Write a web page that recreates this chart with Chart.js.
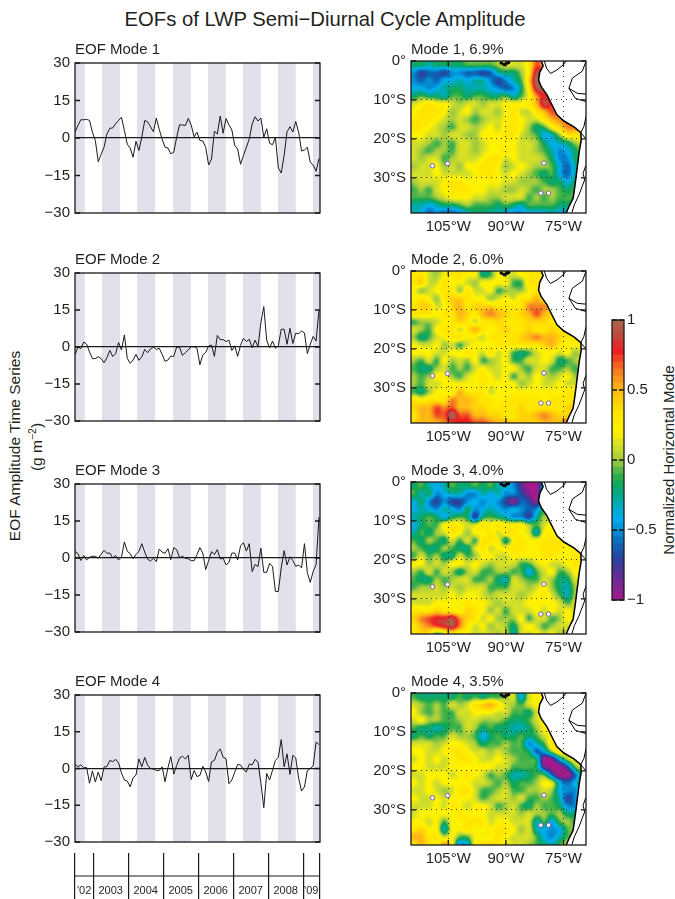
<!DOCTYPE html>
<html>
<head>
<meta charset="utf-8">
<title>EOFs of LWP Semi-Diurnal Cycle Amplitude</title>
<script src="https://cdn.jsdelivr.net/npm/chart.js@4/dist/chart.umd.min.js"></script>
<style>
  html, body { margin: 0; padding: 0; background: #fff; }
  body { position: relative; width: 675px; height: 899px; overflow: hidden; font-family: "Liberation Sans", sans-serif; color: #231f20; }
  canvas { position: absolute; }
  .label { position: absolute; white-space: nowrap; transform: translate(-50%, -50%) rotate(-90deg); font-size: 15.5px; }
  .label sup { font-size: 10.5px; line-height: 0; }
  #mainTitle { position: absolute; left: 325px; top: 19px; transform: translate(-50%, -50%); font-size: 20.3px; white-space: nowrap; }
</style>
</head>
<body>
<div id="mainTitle">EOFs of LWP Semi−Diurnal Cycle Amplitude</div>
<div class="label" style="left:15px; top:446px">EOF Amplitude Time Series</div>
<div class="label" style="left:37px; top:447px">(g m<sup>−2</sup>)</div>
<div class="label" style="left:668px; top:460px; font-size:15px">Normalized Horizontal Mode</div>

<script>
// ---------------- time series, one value a month from mid 2002
const mode1Series = [2.3,5,7.3,7.3,7.5,7,2.3,-1,-9.5,-6.5,-3.7,1.6,3.9,4,5.8,7,8.3,3,-2.5,-4,-7.7,-1.3,-5,0.3,7,6.5,4.5,2.5,8,3.5,-0.5,-3.7,-4,-6.3,-5.7,0.3,5.3,5.2,5,7.8,5.2,0.5,2.3,-1,-1.2,-3.7,-10.8,-8.4,2.7,1.6,8.8,1.9,7.8,5.3,3.2,-3,-4.4,-10.5,-7,-3.7,-0.4,5.6,8.5,6.8,8,0.3,3.7,-2.1,-2.7,0.3,-12,-14,-7,2.5,4.5,2.4,6.6,2.3,-5.2,-4.8,-3.7,-9.7,-10.8,-13.3,-8.2];
const mode2Series = [-3.2,0,-0.7,2,1.2,-2,-4.7,-4.7,-3.9,-4.7,-6.4,-4.3,-1.4,-3.9,-2.7,1.8,-1.2,4.9,-4.6,-6.6,-5.3,-3,-5.4,-4,-1,-2.3,-0.8,0,-1,-0.5,-3,-5.8,-5.3,-3.7,-3.8,0,-0.1,-3.4,-2.3,-1.2,0.1,0.1,-0.5,-7.2,-3.2,-2.2,0.4,0.8,-3.8,4.7,3,3,2.2,2.8,-1.4,0.5,-3.8,0.7,3.5,2.2,3.1,-0.3,2.8,0.1,9.9,16.4,2.7,-0.4,2.4,-0.5,0.5,7.2,7.2,1.1,7.6,1.4,5.6,5.4,6.5,5.7,-2.7,1.1,4.3,2.4,14.9];
const mode3Series = [2.7,1.8,-1,1,-0.8,0.3,0.7,0.7,-0.1,1.5,3.1,1.9,2,0,1,-0.8,0.4,6.5,2.7,1.8,-0.3,1.4,2.7,5.8,2.4,-0.5,-1.2,-0.1,-1.5,3.6,2.4,1.9,3.8,-0.7,4.2,3.4,0.1,0.7,-0.1,-0.3,-1.1,-1.1,1.4,4.2,2,-4.7,-1.1,2.6,1.4,3.4,-0.4,-0.1,-2.8,-1.8,2,2,-0.8,4.9,6.2,2.8,5.8,-5.5,-2.6,-3.5,4,-5.8,-5.8,-2.2,-3.4,-13.6,-13.6,-4,3,-2.8,0.5,-1,-3.4,-2.8,-4,5.8,-6,-9.9,-5.4,-2.7,16.6];
const mode4Series = [1.9,0.7,1.5,0.3,0.4,-6,-1,-5.5,-1.5,-5,0.6,0.8,3.3,2.8,3.7,2.3,-1.8,-4.7,-5.1,-7.5,-3.8,-2.7,3.9,0.7,4.5,1.4,0,-0.3,-0.8,-0.8,0.7,-5.4,0.3,4.9,-2.3,1.2,4.3,5,3.9,5.4,-4.5,-0.8,-3.3,-2.8,0.9,-1.4,-5.3,2.7,3.3,6.6,8,4.6,4,-6.2,-4.7,-1.5,1.6,1.5,-0.4,-1.4,1.8,1.5,3.7,2.6,-6,-16,-2,-4.7,-0.7,3.3,4.6,11.8,0.7,6,-2.4,5.4,4.3,-4,-9.2,-7.5,-0.8,0,1.1,10.8,9.8];

const seriesTicks = [30, 15, 0, -15, -30];
const bandStart = [2002.48, 2003.25, 2004.25, 2005.28, 2006.28, 2007.28, 2008.28, 2009.28];
const bandEnd   = [2002.76, 2003.77, 2004.77, 2005.79, 2006.79, 2007.79, 2008.79, 2009.48];
const yearEdges  = [2002.48, 2003, 2004, 2005, 2006, 2007, 2008, 2009, 2009.46];
const yearLabels = ["'02", "2003", "2004", "2005", "2006", "2007", "2008", "'09"];

// ---------------- horizontal modes, tenths of the normalized mode on a 2 degree grid
// rows run from 1S to 39S, columns from 114W to 70W
const mode1Grid = [
  [-2,-2,-3,-2,-2,-2,-2,-1,-1,-1,-1,0,1,1,1,3,7,5,2,2,2,2,2],
  [-5,-7,-6,-6,-7,-5,-5,-6,-6,-7,-6,-3,-2,-2,0,3,9,7,3,3,3,3,3],
  [-5,-6,-5,-6,-4,-4,-3,-4,-3,-3,-5,-7,-5,-3,-1,4,10,8,4,4,4,4,4],
  [-4,-4,-5,-4,-3,-2,-2,-3,-3,-3,-4,-5,-6,-5,-2,3,9,9,5,4,4,4,4],
  [-2,-1,-2,-2,-3,-1,-1,-2,-1,-1,-2,-2,-1,-3,-1,2,6,8,7,5,4,4,4],
  [1,2,3,2,2,1,0,1,1,0,1,1,2,2,2,3,5,9,7,5,5,5,5],
  [2,3,3,3,2,0,1,2,0,1,1,0,2,3,1,1,3,5,7,6,5,5,5],
  [3,3,3,2,1,0,1,0,-1,0,1,1,2,3,2,1,1,3,5,6,6,5,5],
  [3,3,2,1,0,-1,1,1,0,1,2,1,3,3,2,0,-2,-1,2,4,6,6,5],
  [2,2,1,1,0,1,1,0,0,2,2,2,3,3,1,0,-1,-4,-3,0,3,3,3],
  [1,1,0,-1,0,-1,1,1,0,1,2,2,2,2,1,1,0,-2,-4,-3,-2,0,1],
  [1,0,-1,0,0,-1,1,1,0,1,2,2,3,2,1,1,0,-1,-3,-5,-4,-2,0],
  [1,0,1,1,-1,0,1,1,1,2,3,3,1,2,1,1,1,0,-2,-5,-5,-2,-1],
  [0,1,1,2,0,1,0,2,2,3,3,2,0,1,2,1,0,0,-1,-4,-6,-3,-1],
  [1,1,1,2,1,1,1,1,2,3,3,2,1,2,1,0,-1,-2,-1,-4,-6,-3,-1],
  [0,1,1,1,2,3,3,2,2,2,2,2,1,1,0,0,0,-1,-2,-2,-4,-2,-1],
  [-1,0,-1,1,2,3,3,3,2,2,1,1,0,0,1,0,-1,0,0,-1,-2,-1,-1],
  [-1,-1,-1,0,1,2,2,2,1,1,0,0,1,1,1,-1,0,-1,0,-1,-1,-1,-1],
  [-3,-3,-4,-3,-2,-2,-1,0,-1,-1,-1,-2,-1,-2,-3,-1,-1,-1,-1,-2,-2,-2,-2],
  [-3,-4,-6,-5,-6,-6,-5,-3,-2,-2,-3,-3,-4,-5,-5,-4,-4,-4,-3,-4,-4,-4,-4]
];
const mode2Grid = [
  [3,3,1,0,2,3,3,2,2,-2,-1,2,1,1,2,3,3,3,3,3,3,3,3],
  [3,4,1,1,3,2,2,1,0,2,2,2,2,-1,-1,3,3,3,3,3,3,3,3],
  [2,0,1,2,3,3,0,3,1,1,2,-1,0,0,0,2,3,4,3,3,3,3,3],
  [2,3,2,0,3,4,4,3,2,2,0,1,2,1,3,3,5,3,3,3,3,3,3],
  [3,4,4,1,2,4,5,3,4,4,4,3,3,3,3,6,6,6,4,3,3,3,3],
  [3,3,3,2,3,3,5,4,3,5,6,5,4,3,4,5,7,5,4,3,3,3,3],
  [-1,0,0,1,2,3,4,3,1,3,3,4,3,3,3,4,4,4,3,3,3,3,3],
  [1,0,-1,2,3,3,1,3,5,3,2,3,4,3,3,4,3,3,4,3,3,3,3],
  [0,-2,-1,1,2,3,3,2,2,1,3,3,3,3,4,5,6,5,5,4,3,3,3],
  [2,1,1,2,0,1,-1,1,2,2,2,3,3,3,3,3,3,4,5,3,2,2,2],
  [2,2,2,1,1,2,2,3,2,1,3,1,2,-1,-2,-1,1,2,2,1,2,0,1],
  [0,-1,1,-1,2,0,1,0,2,-1,0,1,2,-1,-1,1,1,2,1,-2,-1,0,1],
  [-1,-2,-2,0,1,-1,0,-1,1,2,1,1,2,2,0,-1,1,1,-1,-1,0,-1,0],
  [0,-1,0,2,2,0,-1,1,2,3,2,1,2,-1,1,0,2,1,0,1,2,0,0],
  [0,-1,1,1,2,2,2,2,2,3,2,2,2,2,0,1,2,1,1,2,1,1,1],
  [-1,-2,0,2,2,2,5,3,3,3,1,2,2,2,2,2,2,2,2,2,3,3,3],
  [3,2,3,3,3,6,5,5,4,3,3,2,3,3,3,3,3,2,3,3,3,3,3],
  [4,5,5,7,6,7,5,5,4,4,3,3,3,3,4,3,3,3,3,3,4,4,4],
  [3,5,5,7,7,10,7,7,5,5,4,4,3,3,4,4,5,6,5,4,4,4,4],
  [4,5,5,5,6,7,8,8,7,7,6,5,5,4,4,4,4,5,5,5,7,7,7]
];
const mode3Grid = [
  [-2,-1,-3,-4,-3,-1,-2,-2,-1,-2,-1,-3,-4,-5,-8,-10,-10,-3,2,2,2,2,2],
  [-1,-3,-2,-5,-4,-3,-3,-5,-5,-3,-4,-3,-5,-5,-7,-9,-10,-1,2,2,2,2,2],
  [-4,-2,-5,-7,-5,-7,-7,-5,-4,-5,-4,-5,-7,-9,-6,-7,-9,-1,2,2,2,2,2],
  [-4,-3,-4,-5,-3,-4,-5,-2,-5,-4,-3,-4,-5,-4,-5,-6,-5,-1,2,2,2,2,2],
  [-3,-2,-1,-2,-4,-2,-1,-2,-7,-2,-1,-2,-3,-5,-5,-7,-3,0,-1,2,2,2,2],
  [-4,-2,-1,-1,2,3,2,1,1,3,2,3,2,2,2,0,-1,1,2,-2,1,2,2],
  [-3,-1,-2,0,1,3,2,0,2,2,3,1,3,3,2,1,-3,2,2,1,1,1,1],
  [-1,-2,0,-1,-2,1,-1,1,-1,3,3,2,-2,2,3,2,2,3,3,3,2,2,2],
  [0,-1,-2,-2,0,-1,-2,-2,1,3,1,2,2,3,3,2,2,3,3,3,2,2,2],
  [-1,1,-1,0,-2,-2,1,-1,0,2,2,1,1,2,2,2,2,3,3,2,2,3,3],
  [2,2,0,1,0,2,2,1,2,1,0,1,1,1,-1,-1,1,2,1,1,2,3,3],
  [0,-1,1,-1,1,0,-2,0,1,-1,-1,0,0,-1,-1,-4,-1,1,2,-1,0,2,2],
  [-1,-2,-2,0,-1,0,1,1,-1,-1,0,-2,-3,1,0,-1,-1,1,0,-2,-2,1,1],
  [-1,0,0,1,0,1,0,1,1,1,-1,-1,-1,1,1,0,1,2,0,-2,-3,0,1],
  [1,1,1,1,1,2,1,2,2,1,0,1,1,1,0,1,2,3,1,-1,-3,0,1],
  [1,1,1,2,2,2,2,3,2,2,1,0,1,1,1,2,2,2,2,1,-1,1,2],
  [3,3,3,4,3,3,2,4,3,2,0,1,-1,1,1,1,2,1,2,1,2,1,2],
  [4,6,7,8,8,9,6,4,3,1,2,0,0,0,2,-1,1,1,-1,0,2,2,2],
  [3,5,6,7,8,9,6,3,1,2,0,1,0,-2,1,2,1,-1,0,1,1,2,2],
  [3,4,3,-1,1,3,2,2,1,1,1,0,1,-3,1,1,2,1,2,0,1,2,2]
];
const mode4Grid = [
  [-1,-2,-2,-2,-2,-2,-1,-2,-1,-2,-1,-1,0,1,-4,1,2,2,2,2,2,2,2],
  [1,0,-1,0,-1,1,0,1,3,4,5,3,1,0,-1,1,2,2,2,2,2,2,2],
  [2,0,-1,0,-1,-1,1,1,2,2,2,1,1,-1,-1,-2,1,2,2,2,2,2,2],
  [1,2,0,0,-1,-1,0,1,1,0,0,0,-1,-2,-2,-1,1,2,2,2,2,2,2],
  [-1,-2,-2,-3,-2,-1,-1,1,0,-2,-1,-2,-2,-3,-3,-2,0,2,2,2,2,2,2],
  [-2,-1,-2,-1,-1,1,0,0,-1,-4,-2,-1,-2,-2,-1,-2,-1,1,2,2,2,2,2],
  [1,1,1,0,1,2,2,1,0,-2,-1,-1,0,-1,-1,-5,-3,-1,3,2,1,1,1],
  [2,2,1,1,2,3,3,2,1,1,0,1,0,-1,-1,-2,-6,-4,0,3,2,2,2],
  [1,2,1,2,1,2,3,3,2,1,1,2,1,0,-1,-1,-2,-10,-9,-4,0,2,2],
  [2,2,1,1,1,2,2,2,2,2,2,1,1,-1,-1,-1,-2,-8,-10,-10,-7,-1,1],
  [1,1,2,2,2,1,2,3,2,1,-1,0,-1,-3,-3,-2,-1,-1,-6,-10,-10,-6,-1],
  [2,1,2,1,2,2,2,2,1,1,0,-1,0,-2,-1,-1,0,2,1,-4,-6,-4,-1],
  [1,1,2,1,0,1,3,3,1,-1,-1,0,1,-1,-1,0,0,1,0,-4,-5,-5,-2],
  [2,1,1,2,1,2,2,2,1,-1,0,1,1,0,1,-1,-1,0,-1,-3,-7,-5,-2],
  [1,1,1,2,1,3,2,1,2,2,1,-1,0,1,-1,-2,0,-1,-1,-2,-5,-5,-1],
  [1,2,2,2,2,2,3,2,2,2,1,1,1,1,0,1,0,0,-1,0,-2,-2,0],
  [2,2,1,2,-1,2,2,3,3,3,1,2,2,1,1,1,-3,-1,-4,-1,0,-1,1],
  [3,4,2,2,-3,2,2,3,2,2,2,3,3,2,0,1,-3,-4,-5,-4,-1,0,1],
  [5,5,3,3,1,2,-1,-1,2,2,2,3,2,1,1,1,-1,-4,-5,-3,-1,1,1],
  [3,5,3,2,6,2,-5,-4,2,3,4,3,2,1,1,0,-1,-2,-3,-1,1,1,1]
];

const lonTicks = [-105, -90, -75];
const latTicks = [0, -10, -20, -30];

// coast of South America, north to south
const coastLon = [-80.8,-80.3,-81.2,-81.5,-80.8,-79.3,-78.0,-76.7,-74.9,-72.3,-70.5,-70.4,-70.9,-71.4,-72.0,-72.5,-73.6,-74.3];
const coastLat = [0,-1.2,-2.9,-4.9,-6.6,-8.7,-11.3,-13.8,-15.4,-16.9,-18.4,-20.3,-23.2,-27.1,-31.8,-35.2,-37.4,-39];
// country borders, null splits them
const borderLon = [-80,-79.4,-78.4,-76.7,-75.1,-74.3,null,-69.2,-70.1,-72.7,-73.6,-71.4,-69.15,null,-73.6,-71.9,-69.15,null,-69.15,-69.7,-70.5,-69.15,null,-69.15,-69.9,-69.5,-71,-72.2,-72.8];
const borderLat = [0,-1.9,-3.2,-2.3,-1,0,null,-0.2,-2.6,-4.4,-7,-8.3,-8.5,null,-7,-9.6,-10.4,null,-14.3,-16.8,-18.4,-20,null,-26.7,-28.8,-30.5,-34.4,-36.9,-38.9];
const islandLon = [-109.1,-105.2,-80.1,-80.9,-78.9];
const islandLat = [-26.9,-26.3,-26.2,-33.9,-33.9];
const galapagosLon = [-91.2,-90.5,-89.8,-89.3];
const galapagosLat = [-0.5,-0.9,-0.6,-0.4];

const colorbarLevels = [-1,-0.95,-0.9,-0.85,-0.8,-0.75,-0.7,-0.65,-0.6,-0.55,-0.5,-0.45,-0.4,-0.35,-0.3,-0.25,-0.2,-0.15,-0.1,-0.05,0,0.05,0.1,0.15,0.2,0.25,0.3,0.35,0.4,0.45,0.5,0.55,0.6,0.65,0.7,0.75,0.8,0.85,0.9,0.95];
const colorbarTicks = [1, 0.5, 0, -0.5, -1];

// colour table: value, r, g, b
const colorStops = [
  [-1, 166,24,142], [-0.85, 106,44,145], [-0.72, 46,63,156], [-0.6, 10,102,181], [-0.42, 0,174,239],
  [-0.28, 0,169,157], [-0.15, 20,166,79], [-0.05, 110,190,70], [0, 165,205,60], [0.1, 210,222,40], [0.2, 255,242,0], [0.35, 255,225,0],
  [0.5, 255,185,20], [0.62, 245,130,32], [0.78, 237,28,36], [0.88, 193,71,58], [1, 165,103,79]
];

const textColor = '#231f20';
const lineColor = '#1a1a1a';
const tickFont = { family: 'Liberation Sans', size: 15 };
const titleFont = { family: 'Liberation Sans', size: 15, weight: 'normal', lineHeight: 1 };
Chart.defaults.animation = false;
Chart.defaults.responsive = false;
Chart.defaults.color = textColor;
Chart.defaults.layout.autoPadding = false;

function colorFor(v) {
  v = Math.max(-1, Math.min(1, v));
  for (let i = 1; i < colorStops.length; i++) {
    if (v <= colorStops[i][0]) {
      const a = colorStops[i - 1], b = colorStops[i];
      const t = (v - a[0]) / (b[0] - a[0]);
      return [a[1] + t * (b[1] - a[1]), a[2] + t * (b[2] - a[2]), a[3] + t * (b[3] - a[3])];
    }
  }
  return colorStops[colorStops.length - 1].slice(1);
}

function addCanvas(left, top, width, height) {
  const c = document.createElement('canvas');
  c.width = width;
  c.height = height;
  c.style.left = left + 'px';
  c.style.top = top + 'px';
  document.body.appendChild(c);
  return c.getContext('2d');
}

function minusSign(v) {
  return String(v).replace('-', '\u2212');
}

// frame round the plot and short ticks on the inside of it
const framePlugin = {
  id: 'frame',
  afterDraw(chart, args, opts) {
    const a = chart.chartArea, ctx = chart.ctx;
    ctx.save();
    ctx.strokeStyle = lineColor;
    ctx.lineWidth = 1.3;
    const y = chart.scales.y, x = chart.scales.x;
    ctx.beginPath();
    (opts.yTicks || []).forEach(v => {
      const p = y.getPixelForValue(v);
      ctx.moveTo(a.left, p); ctx.lineTo(a.left + 5, p);
      ctx.moveTo(a.right, p); ctx.lineTo(a.right - 5, p);
    });
    (opts.xTicks || []).forEach(v => {
      const p = x.getPixelForValue(v);
      ctx.moveTo(p, a.top); ctx.lineTo(p, a.top + 5);
      ctx.moveTo(p, a.bottom); ctx.lineTo(p, a.bottom - 5);
    });
    ctx.stroke();
    ctx.strokeRect(a.left, a.top, a.right - a.left, a.bottom - a.top);
    ctx.restore();
  }
};

// shaded half years
const bandPlugin = {
  id: 'bands',
  beforeDraw(chart) {
    const a = chart.chartArea, x = chart.scales.x, ctx = chart.ctx;
    ctx.save();
    ctx.fillStyle = '#e0e1eb';
    bandStart.forEach((s, i) => {
      const p0 = x.getPixelForValue(s), p1 = x.getPixelForValue(bandEnd[i]);
      ctx.fillRect(p0, a.top, p1 - p0, a.bottom - a.top);
    });
    ctx.restore();
  }
};

function cubic(p0, p1, p2, p3, t) {
  return p1 + 0.5 * t * (p2 - p0 + t * (2 * p0 - 5 * p1 + 4 * p2 - p3 + t * (3 * (p1 - p2) + p3 - p0)));
}

function sampleGrid(grid, col, row) {
  const rows = grid.length, cols = grid[0].length;
  const c0 = Math.floor(col), r0 = Math.floor(row);
  const tc = col - c0, tr = row - r0;
  const pick = (r, c) => grid[Math.max(0, Math.min(rows - 1, r))][Math.max(0, Math.min(cols - 1, c))];
  const vals = [];
  for (let k = -1; k <= 2; k++) {
    vals.push(cubic(pick(r0 + k, c0 - 1), pick(r0 + k, c0), pick(r0 + k, c0 + 1), pick(r0 + k, c0 + 2), tc));
  }
  return cubic(vals[0], vals[1], vals[2], vals[3], tr);
}

// paints the grid through the axes, then blanks out the land
const fieldPlugin = {
  id: 'field',
  beforeDraw(chart, args, opts) {
    const a = chart.chartArea, ctx = chart.ctx, x = chart.scales.x, y = chart.scales.y;
    const w = Math.round(a.right - a.left), h = Math.round(a.bottom - a.top);
    const img = ctx.createImageData(w, h);
    for (let j = 0; j < h; j++) {
      const lat = y.getValueForPixel(a.top + j + 0.5);
      for (let i = 0; i < w; i++) {
        const lon = x.getValueForPixel(a.left + i + 0.5);
        const v = sampleGrid(opts.grid, (lon + 114) / 2, (-lat - 1) / 2) / 10;
        const rgb = colorFor(v);
        const n = (j * w + i) * 4;
        img.data[n] = rgb[0]; img.data[n + 1] = rgb[1]; img.data[n + 2] = rgb[2]; img.data[n + 3] = 255;
      }
    }
    ctx.putImageData(img, Math.round(a.left), Math.round(a.top));
    ctx.save();
    ctx.fillStyle = '#fff';
    ctx.beginPath();
    coastLon.forEach((lon, i) => {
      ctx.lineTo(x.getPixelForValue(lon), y.getPixelForValue(coastLat[i]));
    });
    ctx.lineTo(a.right, a.bottom);
    ctx.lineTo(a.right, a.top);
    ctx.closePath();
    ctx.fill();
    ctx.restore();
  }
};

// time axis under the last panel
const yearTextPlugin = {
  id: 'yearText',
  afterDatasetsDraw(chart) {
    const x = chart.scales.x, y = chart.scales.y, ctx = chart.ctx;
    ctx.save();
    ctx.font = '11px "Liberation Sans"';
    ctx.fillStyle = textColor;
    ctx.textAlign = 'center';
    ctx.textBaseline = 'middle';
    yearLabels.forEach((t, i) => {
      ctx.fillText(t, x.getPixelForValue((yearEdges[i] + yearEdges[i + 1]) / 2), y.getPixelForValue(0.17));
    });
    ctx.restore();
  }
};

function seriesPanel(title, series, top, height) {
  const ctx = addCanvas(30, top - 20, 296, height + 34);
  const points = series.map((v, i) => ({ x: 2002.48 + i / 12.05, y: v }));
  return new Chart(ctx, {
    type: 'scatter',
    data: { datasets: [{ data: points, showLine: true, borderColor: lineColor, borderWidth: 1, pointRadius: 0, tension: 0 }] },
    plugins: [bandPlugin, framePlugin],
    options: {
      layout: { padding: { right: 6, bottom: 9 } },
      plugins: {
        legend: { display: false },
        tooltip: { enabled: false },
        title: { display: true, text: title, align: 'start', fullSize: false, font: titleFont, padding: { top: 0, bottom: 6 } },
        frame: { yTicks: seriesTicks }
      },
      scales: {
        x: {
          type: 'linear', min: 2002.48, max: 2009.48,
          afterFit: s => { s.height = 0; },
          border: { display: false },
          grid: { display: false, drawTicks: false },
          ticks: { display: false }
        },
        y: {
          min: -30, max: 30,
          afterFit: s => { s.width = 45; },
          afterBuildTicks: s => { s.ticks = seriesTicks.map(v => ({ value: v })); },
          border: { display: false },
          grid: { drawTicks: false, color: c => (c.tick.value === 0 ? lineColor : 'rgba(0,0,0,0)'), lineWidth: 1.2 },
          ticks: { font: tickFont, padding: 5, color: textColor, callback: v => minusSign(v) }
        }
      }
    }
  });
}

function mapPanel(title, grid, top, height) {
  const ctx = addCanvas(366, top - 19, 228, height + 19 + 24);
  const zip = (xs, ys) => xs.map((v, i) => ({ x: v, y: ys[i] }));
  return new Chart(ctx, {
    type: 'scatter',
    data: {
      datasets: [
        { data: zip(coastLon, coastLat), showLine: true, borderColor: '#000', borderWidth: 1.5, pointRadius: 0 },
        { data: zip(borderLon, borderLat), showLine: true, spanGaps: false, borderColor: '#000', borderWidth: 1, pointRadius: 0 },
        { data: zip(islandLon, islandLat), pointRadius: 2.2, backgroundColor: '#fff', borderColor: '#7a5fb0', borderWidth: 1 },
        { data: zip(galapagosLon, galapagosLat), pointRadius: 1.7, backgroundColor: '#000', borderColor: '#000', borderWidth: 0 }
      ]
    },
    plugins: [fieldPlugin, framePlugin],
    options: {
      layout: { padding: { right: 8 } },
      plugins: {
        legend: { display: false },
        tooltip: { enabled: false },
        title: { display: true, text: title, align: 'start', fullSize: false, font: titleFont, padding: { top: 0, bottom: 4 } },
        field: { grid: grid },
        frame: { yTicks: latTicks, xTicks: lonTicks }
      },
      scales: {
        x: {
          type: 'linear', min: -114.7, max: -69.15,
          afterFit: s => { s.height = 24; },
          afterBuildTicks: s => { s.ticks = lonTicks.map(v => ({ value: v })); },
          border: { display: false, dash: [1, 4] },
          grid: { drawTicks: false, color: '#333', lineWidth: 1 },
          ticks: { font: tickFont, padding: 5, maxRotation: 0, color: textColor, callback: v => (-v) + '\u00b0W' }
        },
        y: {
          min: -39, max: 0,
          afterFit: s => { s.width = 45; },
          afterBuildTicks: s => { s.ticks = latTicks.map(v => ({ value: v })); },
          border: { display: false, dash: [1, 4] },
          grid: { drawTicks: false, color: c => (c.tick.value === 0 ? 'rgba(0,0,0,0)' : '#333'), lineWidth: 1 },
          ticks: { font: tickFont, padding: 5, color: textColor, callback: v => (v === 0 ? '0\u00b0' : (-v) + '\u00b0S') }
        }
      }
    }
  });
}

// ---------------- left column
seriesPanel('EOF Mode 1', mode1Series, 62, 151);
seriesPanel('EOF Mode 2', mode2Series, 272, 149);
seriesPanel('EOF Mode 3', mode3Series, 483, 149);
seriesPanel('EOF Mode 4', mode4Series, 694, 148);

// ---------------- right column
mapPanel('Mode 1, 6.9%', mode1Grid, 61, 152);
mapPanel('Mode 2, 6.0%', mode2Grid, 271, 152);
mapPanel('Mode 3, 4.0%', mode3Grid, 482, 152);
mapPanel('Mode 4, 3.5%', mode4Grid, 693, 152);

// ---------------- time axis
new Chart(addCanvas(70, 853, 260, 46), {
  type: 'scatter',
  data: { datasets: [{ data: [{ x: 2002.48, y: 0.5 }, { x: 2009.46, y: 0.5 }], showLine: true, borderColor: lineColor, borderWidth: 1, pointRadius: 0 }] },
  plugins: [yearTextPlugin],
  options: {
    layout: { padding: { left: 5, right: 10 } },
    plugins: { legend: { display: false }, tooltip: { enabled: false } },
    scales: {
      x: {
        type: 'linear', min: 2002.48, max: 2009.48,
        afterFit: s => { s.height = 0; },
        afterBuildTicks: s => { s.ticks = yearEdges.map(v => ({ value: v })); },
        border: { display: false },
        grid: { drawTicks: false, color: lineColor, lineWidth: 1.2 },
        ticks: { display: false }
      },
      y: { display: false, min: 0, max: 1 }
    }
  }
});

// ---------------- colour bar
new Chart(addCanvas(600, 308, 75, 304), {
  type: 'bar',
  data: {
    labels: [''],
    datasets: colorbarLevels.map((v, i) => {
      const top = i + 1 < colorbarLevels.length ? colorbarLevels[i + 1] : 1;
      const rgb = colorFor(v + (top - v) / 2).map(Math.round);
      const col = 'rgb(' + rgb.join(',') + ')';
      return { data: [[v, top]], backgroundColor: col, borderColor: col, borderWidth: 0, barPercentage: 1, categoryPercentage: 1, grouped: false };
    })
  },
  plugins: [framePlugin],
  options: {
    layout: { padding: { left: 12, top: 8, bottom: 8 } },
    plugins: { legend: { display: false }, tooltip: { enabled: false }, frame: { yTicks: colorbarTicks } },
    scales: {
      x: { display: false },
      y: {
        position: 'right', min: -1, max: 1,
        afterFit: s => { s.width = 51; },
        afterBuildTicks: s => { s.ticks = colorbarTicks.map(v => ({ value: v })); },
        border: { display: false },
        grid: { display: false, drawTicks: false },
        ticks: { font: tickFont, padding: 3, color: textColor, callback: v => minusSign(v) }
      }
    }
  }
});
</script>
</body>
</html>
